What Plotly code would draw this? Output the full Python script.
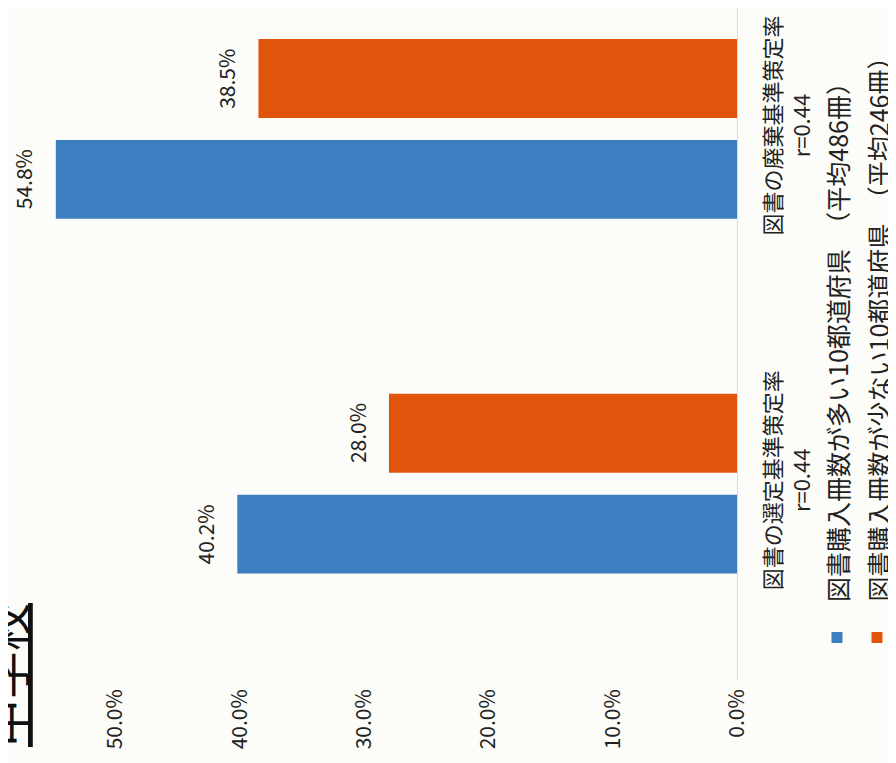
import plotly.graph_objects as go

# ---- data ----
categories = ["図書の選定基準策定率", "図書の廃棄基準策定率"]
r_labels = ["r=0.44", "r=0.44"]
series_names = ["図書購入冊数が多い10都道府県\u3000（平均486冊）",
                "図書購入冊数が少ない10都道府県\u3000（平均246冊）"]
many_values = [40.2, 54.8]
few_values = [28.0, 38.5]
tick_values = [0, 10, 20, 30, 40, 50]
tick_labels = ["0.0%", "10.0%", "20.0%", "30.0%", "40.0%", "50.0%"]
title_text = "中学校"

# ---- style ----
OFF = 8                      # page body margin of the html page
W, H = 896 - OFF, 763 - OFF
PAGE_R, PAGE_B = 737, 680    # page pixel of value baseline / plot bottom
PLOT_W = PAGE_R - OFF
PLOT_H = PAGE_B - OFF
PX_PER_PCT = 12.43
PX_PER_CAT = 355
BARGAP, BARGROUPGAP = 0.431, 0.218
BLUE = "#3b7fc0"
ORANGE = "#e1540c"
BG = "#fcfcf8"
FONT = "Noto Sans CJK JP"
TXT = "#222222"
colors = [BLUE, ORANGE]

def pxx(px):
    return (px - OFF) / PLOT_W

def pxy(py):
    return (PAGE_B - py) / PLOT_H

fig = go.Figure()
for name, vals, col in zip(series_names, [many_values, few_values], colors):
    fig.add_trace(go.Bar(
        x=vals, y=categories, orientation="h", name=name,
        marker=dict(color=col, line=dict(width=0)),
        showlegend=False,
    ))

# value labels: rotated annotations placed at each bar's end
slot_px = (1 - BARGAP) * PX_PER_CAT / 2
for i, vals in enumerate([many_values, few_values]):
    shift = (i - 0.5) * slot_px
    for cat, v in zip(categories, vals):
        fig.add_annotation(
            x=v, y=cat, xref="x", yref="y", text=f"{v:.1f}%",
            textangle=-90, showarrow=False, xanchor="right",
            yanchor="middle", xshift=-15, yshift=shift,
            font=dict(family=FONT, size=21, color=TXT),
        )

ticktext = [f"{c}<br>{r}" for c, r in zip(categories, r_labels)]

fig.update_layout(
    width=W, height=H,
    margin=dict(l=0, r=W - PLOT_W, t=0, b=H - PLOT_H),
    paper_bgcolor=BG, plot_bgcolor=BG,
    barmode="group", bargap=BARGAP, bargroupgap=BARGROUPGAP,
    font=dict(family=FONT, color=TXT),
    xaxis=dict(
        range=[PLOT_W / PX_PER_PCT, 0], tickvals=tick_values,
        ticktext=tick_labels, tickangle=-90,
        tickfont=dict(family=FONT, size=21, color=TXT),
        showgrid=False, zeroline=False, showline=False, ticks="",
        ticklabelstandoff=4,
    ),
    yaxis=dict(
        type="category", categoryorder="array", categoryarray=categories,
        range=[-(PAGE_B - 483.5) / PX_PER_CAT, 1 + (129 - OFF) / PX_PER_CAT],
        side="right",
        tickvals=categories, ticktext=ticktext, tickangle=-90,
        tickfont=dict(family=FONT, size=22, color=TXT),
        showgrid=False, zeroline=False, ticks="",
        showline=True, linecolor="#dcdcdc", linewidth=1,
        ticklabelstandoff=17,
    ),
)

# legend drawn as rotated annotations + small colour squares
leg_x = [837, 877]
for name, col, lx in zip(series_names, colors, leg_x):
    fig.add_annotation(
        xref="paper", yref="paper", x=pxx(lx), y=pxy(604),
        xanchor="center", yanchor="bottom", text=name, textangle=-90,
        showarrow=False, font=dict(family=FONT, size=25, color=TXT),
    )
    fig.add_shape(
        type="rect", xref="paper", yref="paper",
        x0=pxx(lx - 5.5), x1=pxx(lx + 5.5), y0=pxy(643), y1=pxy(632),
        fillcolor=col, line=dict(width=0),
    )

# page title, partly cut off on the left
fig.add_annotation(
    xref="paper", yref="paper", x=pxx(4), y=pxy(675),
    xanchor="center", yanchor="middle",
    text=f"<u>{title_text}</u>", textangle=-90, showarrow=False,
    font=dict(family=FONT, size=48, color="#111111"),
)

fig.write_html("out.html")
